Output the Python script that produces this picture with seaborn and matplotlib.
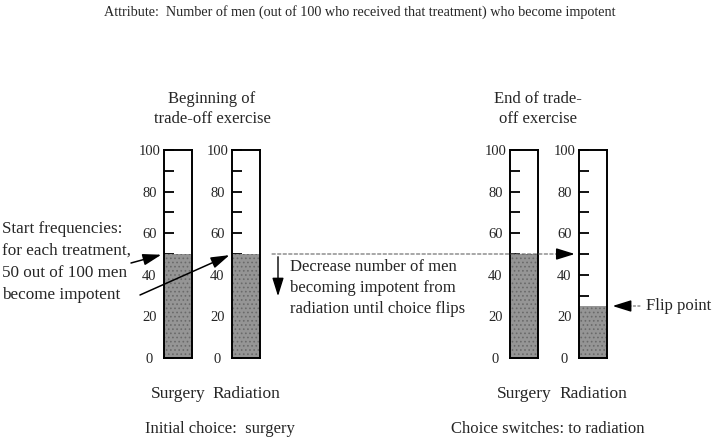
import matplotlib
matplotlib.use("Agg")
import matplotlib.pyplot as plt
import pandas as pd
import seaborn as sns

TITLE = "Attribute:  Number of men (out of 100 who received that treatment) who become impotent"
treatments = ["Surgery", "Radiation"]
start_values = [50, 50]
end_values = [50, 25]
tick_values = [0, 20, 40, 60, 80, 100]
minor_values = [10, 30, 50, 70, 90]

W, H = 720, 443
FILL = "#959595"
BOX_W = 28
BOX_TOP, BOX_BOT = 150, 358


def fx(x):
    return x / W


def fy(y):
    return 1 - y / H


def px(x, y):
    return (fx(x), fy(y))


sns.set_theme(style="white")
plt.rcParams["font.family"] = ["Liberation Serif", "DejaVu Serif"]
plt.rcParams["hatch.linewidth"] = 0.7

fig = plt.figure(figsize=(7.2, 4.43), dpi=100)


def thermometer(left, name, value):
    ax = fig.add_axes([fx(left), fy(BOX_BOT), BOX_W / W, (BOX_BOT - BOX_TOP) / H])
    df = pd.DataFrame({"treatment": [name], "count": [value]})
    sns.barplot(data=df, x="treatment", y="count", color=FILL, saturation=1,
                width=1, ax=ax, linewidth=0)
    for p in ax.patches:
        p.set_hatch("....")
        p.set_edgecolor("#6a6a6a")
    ax.set_xlim(-0.5, 0.5)
    ax.set_ylim(0, 100)
    ax.set_xlabel("")
    ax.set_ylabel("")
    ax.set_facecolor("white")
    for s in ax.spines.values():
        s.set_visible(True)
        s.set_color("black")
        s.set_linewidth(1.4)
    ax.set_yticks(tick_values)
    ax.set_yticks(minor_values, minor=True)
    ax.tick_params(axis="y", which="both", direction="in", left=True,
                   length=7, width=1.3, color="black", labelsize=10.5, pad=10.5)
    for lbl in ax.get_yticklabels():
        lbl.set_ha("center")
    ax.tick_params(axis="x", length=0, labelsize=12.5, pad=20)
    return ax


ax1 = thermometer(164, treatments[0], start_values[0])
ax2 = thermometer(232, treatments[1], start_values[1])
ax3 = thermometer(510, treatments[0], end_values[0])
ax4 = thermometer(579, treatments[1], end_values[1])

# texts
fig.text(*px(360, 12), TITLE, ha="center", va="center", fontsize=10.2)
fig.text(*px(212, 109), "Beginning of\ntrade-off exercise", ha="center", va="center",
         fontsize=12, linespacing=1.4)
fig.text(*px(538, 109), "End of trade-\noff exercise", ha="center", va="center",
         fontsize=12, linespacing=1.4)
fig.text(*px(2, 262), "Start frequencies:\nfor each treatment,\n50 out of 100 men\nbecome impotent",
         ha="left", va="center", fontsize=12.3, linespacing=1.5)
fig.text(*px(290, 288), "Decrease number of men\nbecoming impotent from\nradiation until choice flips",
         ha="left", va="center", fontsize=12, linespacing=1.4)
fig.text(*px(646, 306), "Flip point", ha="left", va="center", fontsize=12)
fig.text(*px(220, 429), "Initial choice:  surgery", ha="center", va="center", fontsize=12)
fig.text(*px(548, 429), "Choice switches: to radiation", ha="center", va="center", fontsize=12)

head = dict(arrowstyle="-|>,head_length=0.8,head_width=0.25", color="black",
            lw=1.1, mutation_scale=14, shrinkA=0)

# arrows from the start-frequency note
ax1.annotate("", xy=(-0.5, start_values[0]), xytext=px(131, 263), textcoords="figure fraction",
             arrowprops=dict(head, shrinkB=2), annotation_clip=False)
ax2.annotate("", xy=(-0.5, start_values[1]), xytext=px(140, 295), textcoords="figure fraction",
             arrowprops=dict(head, shrinkB=2), annotation_clip=False)

# dashed guide to the end radiation box
ax4.annotate("", xy=(-0.5, start_values[1]), xytext=px(272, 254), textcoords="figure fraction",
             arrowprops=dict(arrowstyle="-", color="#666666", lw=0.8, ls=(0, (3, 2)),
                             shrinkA=0, shrinkB=12), annotation_clip=False)
ax4.annotate("", xy=(-0.5, start_values[1]), xytext=px(562, 254), textcoords="figure fraction",
             arrowprops=dict(head, shrinkB=3), annotation_clip=False)

# downward arrow
fig.add_artist(matplotlib.patches.FancyArrowPatch(
    px(278, 254), px(278, 299), transform=fig.transFigure,
    arrowstyle="-|>,head_length=0.8,head_width=0.25", color="black", lw=1.0, mutation_scale=14))

# flip point arrow
ax4.annotate("", xy=(0.5, end_values[1]), xytext=px(640, 306), textcoords="figure fraction",
             arrowprops=dict(arrowstyle="-", color="#666666", lw=0.8, ls=(0, (2, 2)),
                             shrinkA=0, shrinkB=14), annotation_clip=False)
ax4.annotate("", xy=(0.5, end_values[1]), xytext=px(626, 306), textcoords="figure fraction",
             arrowprops=dict(head, shrinkB=4), annotation_clip=False)

fig.savefig("out.png", dpi=100, facecolor="white")
